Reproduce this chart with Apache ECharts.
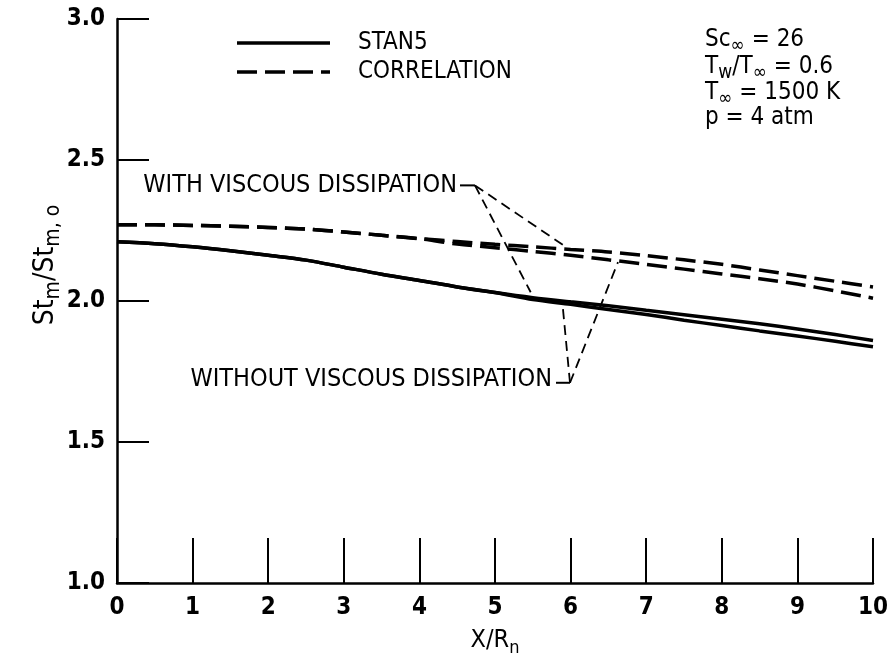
<!DOCTYPE html>
<html>
<head>
<meta charset="utf-8">
<script src="https://cdn.jsdelivr.net/npm/echarts@6/dist/echarts.min.js"></script>
<style>
html,body{margin:0;padding:0;background:#fff;}
#main{width:895px;height:662px;}
</style>
</head>
<body>
<div id="main"></div>
<script>
// ---- data ----
const xValues = [0,0.5,1,1.5,2,2.5,3,3.5,4,4.5,5,5.5,6,6.5,7,7.5,8,8.5,9,9.5,10];
const stan5With    = [2.210,2.203,2.192,2.178,2.162,2.145,2.120,2.095,2.073,2.050,2.030,2.012,1.997,1.983,1.967,1.951,1.935,1.919,1.901,1.881,1.860];
const stan5Without = [2.210,2.203,2.192,2.178,2.162,2.145,2.120,2.095,2.073,2.050,2.030,2.005,1.988,1.970,1.952,1.932,1.913,1.894,1.876,1.857,1.838];
const corrWith     = [2.270,2.270,2.268,2.265,2.261,2.255,2.245,2.233,2.221,2.211,2.201,2.192,2.183,2.174,2.161,2.146,2.130,2.110,2.090,2.070,2.050];
const corrWithout  = [2.270,2.270,2.268,2.265,2.261,2.255,2.245,2.233,2.221,2.202,2.189,2.176,2.162,2.146,2.130,2.113,2.096,2.079,2.060,2.036,2.010];
const xTicks = [0,1,2,3,4,5,6,7,8,9,10];
const yTicks = [1.0,1.5,2.0,2.5,3.0];
const legendNames = ['STAN5','CORRELATION'];
const paramLines = [
  ['Sc','∞',' = 26'],
  ['T','w','/T','∞',' = 0.6'],
  ['T','∞',' = 1500 K'],
  ['p = 4 atm']
];
// annotation anchors in data units
const withLabel = {text:'WITH VISCOUS DISSIPATION', at:[4.497,2.410], hook:[[4.537,2.410],[4.735,2.410]], ends:[[5.926,2.194],[5.472,2.031]]};
const withoutLabel = {text:'WITHOUT VISCOUS DISSIPATION', at:[5.754,1.721], hook:[[5.807,1.710],[5.992,1.710]], ends:[[5.899,1.972],[6.627,2.138]]};

const FONT = '"Liberation Sans Narrow","DejaVu Sans Condensed","Roboto Condensed",sans-serif';
const zip = (xs, ys) => xs.map((x,i)=>[x, ys[i]]);

const chart = echarts.init(document.getElementById('main'), null, {renderer:'canvas'});

const subRich = {
  a:{fontSize:25, fontFamily:FONT, color:'#000', lineHeight:34, verticalAlign:'middle'},
  s:{fontSize:18, fontFamily:FONT, color:'#000', lineHeight:16, verticalAlign:'bottom'}
};

const solidStyle = {color:'#000', width:3.5, type:'solid'};
const dashStyle = {color:'#000', width:3.5, type:[20,8]};

function lineSeries(name, data, dashed){
  return {
    type:'line', name:name, data:data, smooth:0.3, symbol:'none', showSymbol:false,
    lineStyle: dashed ? dashStyle : solidStyle,
    itemStyle:{color:'#000'}, animation:false, z:3
  };
}

chart.setOption({
  backgroundColor:'#fff',
  animation:false,
  grid:{left:117, right:22, top:19, bottom:77, containLabel:false},
  xAxis:{
    type:'value', min:0, max:10, interval:1,
    name:'{a|X/R}{s|n}', nameLocation:'middle', nameGap:40,
    nameTextStyle:{rich:subRich},
    axisLine:{show:true, lineStyle:{color:'#000', width:2.5}},
    axisTick:{show:true, inside:true, length:45, lineStyle:{color:'#000', width:2}},
    axisLabel:{fontSize:24, fontFamily:FONT, color:'#000', margin:13, fontWeight:'bold', formatter:v=>String(v)},
    splitLine:{show:false}
  },
  yAxis:{
    type:'value', min:1, max:3, interval:0.5,
    axisLine:{show:true, lineStyle:{color:'#000', width:2.5}},
    axisTick:{show:true, inside:true, length:32, lineStyle:{color:'#000', width:2}},
    axisLabel:{fontSize:24, fontFamily:FONT, color:'#000', margin:12, fontWeight:'bold', formatter:v=>v.toFixed(1)},
    splitLine:{show:false}
  },
  series:[
    lineSeries('STAN5', zip(xValues, stan5With), false),
    lineSeries('STAN5', zip(xValues, stan5Without), false),
    lineSeries('CORRELATION', zip(xValues, corrWith), true),
    lineSeries('CORRELATION', zip(xValues, corrWithout), true)
  ]
});

// ---- annotations ----
const toPx = p => chart.convertToPixel({gridIndex:0}, p);
const graphics = [];

// y axis title (rotated)
const yNameRich = {
  a:{fontSize:28, fontFamily:FONT, fill:'#000', lineHeight:36, verticalAlign:'middle'},
  s:{fontSize:21, fontFamily:FONT, fill:'#000', lineHeight:18, verticalAlign:'bottom'}
};
graphics.push({type:'text', x:46, y:265, rotation:Math.PI/2,
  style:{text:'{a|St}{s|m}{a|/St}{s|m, o}', rich:yNameRich, align:'center', verticalAlign:'middle'}});

// legend (drawn manually, no symbols)
const legendY = [43, 72];
legendNames.forEach((nm, i)=>{
  graphics.push({type:'line', shape:{x1:237, y1:legendY[i], x2:330, y2:legendY[i]},
    style:{stroke:'#000', lineWidth:3.5, lineDash: i === 0 ? null : [20,8]}});
  graphics.push({type:'text', x:358, y:legendY[i], style:{text:nm, fontSize:24, fontFamily:FONT, fill:'#000', align:'left', verticalAlign:'middle'}});
});

function addLabel(lbl){
  const a = toPx(lbl.at);
  graphics.push({type:'text', x:a[0], y:a[1], style:{text:lbl.text, fontSize:25, fontFamily:FONT, fill:'#000', align:'right', verticalAlign:'middle'}});
  const h0 = toPx(lbl.hook[0]), h1 = toPx(lbl.hook[1]);
  graphics.push({type:'line', shape:{x1:h0[0], y1:h0[1], x2:h1[0], y2:h1[1]}, style:{stroke:'#000', lineWidth:2}});
  lbl.ends.forEach(e=>{
    const p = toPx(e);
    graphics.push({type:'line', shape:{x1:h1[0], y1:h1[1], x2:p[0], y2:p[1]}, style:{stroke:'#000', lineWidth:1.8, lineDash:[10,6]}});
  });
}
addLabel(withLabel);
addLabel(withoutLabel);

// parameter block (top right)
const paramRich = {
  n:{fontSize:24, fontFamily:FONT, fill:'#000', lineHeight:32, verticalAlign:'middle'},
  s:{fontSize:19, fontFamily:FONT, fill:'#000', lineHeight:16, verticalAlign:'bottom'}
};
const paramY = [40, 67, 93, 118];
paramLines.forEach((parts, i)=>{
  let txt = '';
  if (parts.length === 1) txt = '{n|' + parts[0] + '}';
  else parts.forEach((p, j)=>{ txt += (j % 2 === 1 ? '{s|' : '{n|') + p + '}'; });
  graphics.push({type:'text', x:705, y:paramY[i], style:{text:txt, rich:paramRich, verticalAlign:'middle', align:'left'}});
});

chart.setOption({graphic:graphics});
</script>
</body>
</html>
